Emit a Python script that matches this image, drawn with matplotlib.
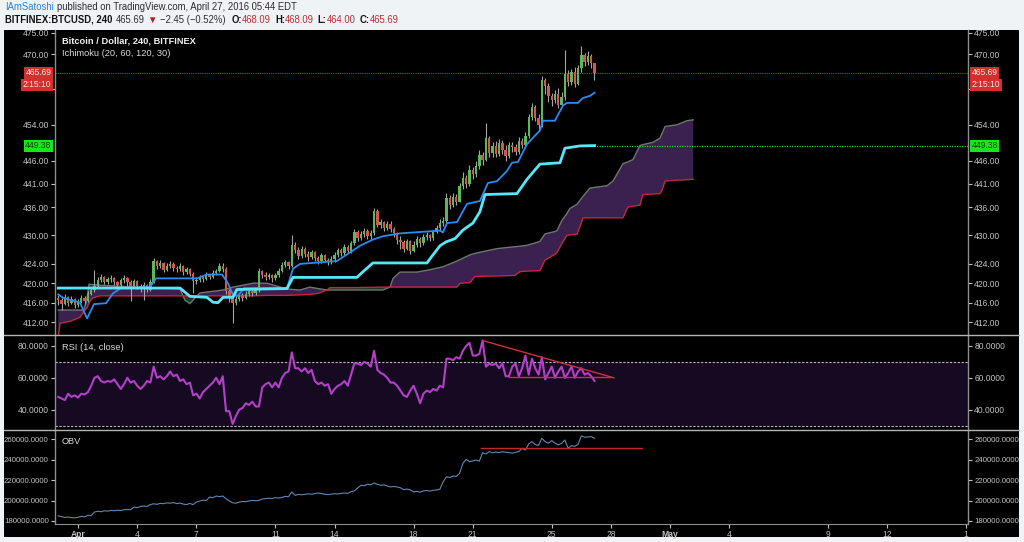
import numpy as np
import pandas as pd
import matplotlib
matplotlib.use('Agg')
import matplotlib.pyplot as plt
from matplotlib import transforms, font_manager
from matplotlib.ticker import FixedLocator, FuncFormatter, NullLocator
from matplotlib.lines import Line2D
from matplotlib.patches import Rectangle

# fonts: TradingView uses a narrow face, try Liberation Sans Narrow
names = {f.name for f in font_manager.fontManager.ttflist}
if 'Liberation Sans Narrow' in names:
    fam, k = 'Liberation Sans Narrow', 1.0
else:
    fam, k = 'Liberation Sans', 0.88
plt.rcParams['font.family'] = [fam, 'DejaVu Sans']

# ---- data: BTCUSD 4h bars, Mar 31 00:00 -> Apr 27 04:00 ----
bar_times = pd.date_range('2016-03-31 00:00', periods=164, freq='4h')
first_open = 417.0
closes = [416.5, 415.8, 417.2, 416.0, 416.8, 415.5,
          416.2, 417.0, 416.4, 417.8, 418.5, 419.4,
          420.6, 421.2, 420.3, 420.8, 421.1, 420.2,
          419.6, 420.6, 421.1, 420.2, 419.4, 420.4,
          419.4, 418.8, 419.6, 418.7, 420.3, 424.6,
          423.5, 424.2, 422.8, 423.6, 424.0, 423.2,
          422.9, 423.5, 422.4, 423.0, 422.0, 420.5,
          420.6, 421.2, 420.8, 421.7, 421.3, 422.2,
          422.6, 423.6, 423.0, 418.3, 417.0, 416.0,
          416.8, 417.5, 416.9, 417.8, 418.4, 418.0,
          418.5, 422.5, 421.8, 421.2, 421.6, 421.0,
          421.6, 422.6, 423.8, 424.3, 423.6, 428.0,
          427.0, 425.6, 427.2, 426.0, 425.4, 426.5,
          425.2, 424.6, 425.8, 424.9, 424.3, 425.0,
          425.8, 426.9, 426.2, 427.5, 426.8, 428.4,
          430.8, 429.5, 430.2, 431.0, 429.8, 430.5,
          435.2, 432.2, 432.8, 431.6, 432.5, 431.4,
          430.4, 429.0, 428.5, 427.2, 428.8, 426.8,
          428.0, 429.2, 428.3, 429.6, 430.0, 429.4,
          430.8, 431.6, 432.6, 433.0, 438.0, 436.5,
          438.2, 437.2, 440.5, 442.3, 441.0, 444.0,
          443.2, 444.8, 447.4, 446.2, 451.0, 447.8,
          449.2, 447.6, 450.0, 448.4, 447.0, 449.5,
          449.0, 448.0, 450.5, 449.6, 451.5, 455.8,
          458.0, 455.5, 454.0, 464.0, 462.8, 460.5,
          459.5, 461.0, 458.5, 460.2, 465.5, 463.6,
          466.0, 463.2, 466.8, 469.8, 468.2, 469.5,
          468.09, 465.69]
highs = [417.6, 417.0, 417.8, 417.4, 417.3, 417.0,
         416.8, 417.5, 417.4, 418.3, 419.1, 422.7,
         421.2, 421.9, 421.5, 421.3, 421.7, 421.3,
         420.5, 421.1, 421.8, 421.3, 420.6, 420.9,
         420.6, 419.9, 420.2, 419.9, 420.8, 425.2,
         424.9, 424.8, 424.4, 424.1, 424.6, 424.3,
         423.6, 424.1, 423.8, 423.4, 423.2, 422.3,
         421.2, 421.8, 421.5, 422.3, 422.0, 422.7,
         423.0, 424.2, 424.1, 423.4, 418.8, 417.5,
         417.3, 418.0, 417.9, 418.3, 419.0, 418.8,
         419.0, 423.2, 422.8, 422.3, 422.1, 421.9,
         422.2, 423.1, 424.3, 424.9, 424.7, 430.0,
         428.6, 427.6, 427.8, 427.6, 426.6, 427.0,
         426.8, 425.6, 426.3, 426.1, 425.3, 425.6,
         426.4, 427.4, 427.3, 428.1, 427.9, 428.9,
         431.4, 431.2, 430.9, 431.6, 431.4, 431.2,
         435.8, 435.6, 433.4, 433.0, 433.1, 433.0,
         431.8, 430.8, 429.8, 429.0, 429.3, 429.1,
         428.7, 429.8, 429.6, 430.3, 430.7, 430.3,
         431.2, 432.2, 433.4, 433.8, 439.0, 438.6,
         439.0, 438.9, 441.2, 443.5, 443.0, 445.2,
         444.6, 446.0, 448.5, 448.0, 454.5, 451.5,
         450.1, 450.3, 450.8, 450.6, 449.4, 450.2,
         450.2, 449.8, 451.2, 451.0, 452.4, 456.5,
         458.8, 458.5, 456.4, 465.0, 464.6, 463.4,
         461.2, 461.8, 462.2, 461.4, 471.0, 466.3,
         466.7, 467.0, 467.5, 472.0, 470.3, 470.8,
         470.0, 468.09]
lows = [415.6, 414.6, 415.5, 415.4, 415.7, 415.0,
        415.2, 415.9, 415.8, 416.1, 417.5, 418.2,
        419.1, 420.2, 419.8, 419.9, 420.3, 419.6,
        418.8, 419.2, 420.1, 419.4, 416.4, 419.0,
        418.9, 418.2, 416.5, 418.2, 418.4, 420.0,
        422.9, 423.1, 422.3, 422.5, 423.2, 422.6,
        422.3, 422.6, 421.8, 422.0, 421.5, 418.0,
        419.9, 420.2, 420.2, 420.6, 420.8, 421.0,
        421.8, 422.3, 422.4, 417.8, 416.2, 411.8,
        415.5, 416.4, 416.3, 416.7, 417.4, 417.3,
        417.6, 418.2, 421.0, 420.6, 420.8, 420.2,
        420.7, 421.3, 422.4, 423.3, 422.9, 423.4,
        426.2, 425.0, 425.3, 425.5, 424.6, 425.0,
        424.7, 423.9, 424.2, 424.4, 423.7, 423.9,
        424.5, 425.4, 425.6, 425.9, 426.2, 426.3,
        428.0, 428.8, 429.0, 429.7, 429.2, 429.3,
        430.1, 431.8, 431.6, 430.9, 431.2, 430.6,
        429.6, 428.2, 427.1, 426.4, 426.9, 426.1,
        426.5, 427.6, 427.5, 428.0, 429.1, 428.7,
        429.0, 430.4, 431.0, 431.9, 432.5, 435.6,
        436.0, 436.5, 437.0, 439.8, 440.2, 440.6,
        442.0, 442.6, 444.3, 445.2, 445.9, 446.9,
        446.9, 446.8, 447.0, 447.6, 446.0, 446.6,
        447.9, 447.2, 447.6, 448.8, 449.0, 451.0,
        455.0, 454.9, 452.8, 453.6, 461.0, 459.2,
        458.2, 458.8, 457.8, 457.9, 459.6, 462.8,
        463.0, 462.6, 462.9, 466.0, 467.2, 467.5,
        466.8, 464.0]

rsi = [48, 47, 46, 50, 48, 49, 47.5, 50, 49.5, 51, 55, 60,
       61, 58, 57, 58, 57.5, 59, 56, 53, 56, 60, 57, 58,
       55, 53, 55, 58, 57, 67, 60, 61, 59, 61, 64, 61,
       62, 58, 59, 56, 57, 49, 50, 47, 51, 53, 55, 57,
       60, 56, 61, 39, 39, 31, 36, 40, 41, 44, 43, 45,
       42, 42, 54, 56, 57, 54, 57, 54, 60, 63, 64, 76,
       66, 66, 64, 66, 63, 65, 58, 56, 57, 55, 56, 50,
       53, 55, 56, 58, 55, 62, 69, 69, 68, 70, 69, 67,
       77, 65, 63, 62, 60, 57, 57, 55, 52, 49, 48, 52,
       55, 50, 44, 50, 52, 51, 53, 52, 55, 54, 72, 72,
       71, 73, 72, 77, 80, 82, 74, 74, 75, 83.5, 67, 69,
       68, 69, 66, 69, 61, 61, 67, 69, 61, 66, 74, 62,
       72, 66, 62, 73, 59, 63, 67, 60, 64, 67, 60, 63,
       67, 60, 64, 66, 62, 63, 61, 58]

obv_k = [185.0, 184.2, 183.4, 183.8, 183.2, 183.0, 183.5, 184.5, 184.0, 185.5, 185.2, 188.7,
         189.5, 189.0, 190.0, 189.6, 190.3, 190.0, 190.5, 190.2, 191.0, 191.3, 191.0, 193.6,
         193.0, 194.2, 194.6, 194.2, 196.0, 196.8, 196.3, 197.2, 196.9, 197.7, 197.4, 198.0,
         197.0, 197.5, 196.5, 196.0, 197.2, 196.0, 198.5, 199.5, 200.4, 200.0, 203.4, 202.8,
         204.4, 203.8, 204.4, 201.8, 199.5, 197.8, 197.4, 198.4, 199.1, 198.8, 199.6, 200.1,
         199.8, 200.1, 201.5, 201.8, 202.2, 202.0, 202.8, 202.4, 203.0, 204.1, 203.8, 208.4,
         205.1, 206.0, 205.6, 206.1, 206.6, 206.1, 206.8, 207.4, 206.8, 206.2, 205.8, 206.3,
         206.7, 206.4, 207.0, 207.4, 207.0, 208.7, 209.5, 212.3, 214.9, 214.5, 215.9, 215.5,
         217.2, 215.9, 214.9, 215.4, 214.2, 213.3, 213.8, 213.3, 212.5, 210.7, 211.2, 210.5,
         208.4, 209.0, 208.2, 209.4, 209.8, 209.3, 210.0, 210.4, 211.0, 218.4, 223.3, 222.5,
         224.0, 223.6, 226.6, 236.4, 240.3, 238.1, 238.8, 239.7, 238.6, 246.9, 245.6, 247.9,
         246.8, 247.5, 246.9, 247.9, 247.3, 247.0, 246.4, 247.2, 248.0, 251.2, 249.5, 255.4,
         257.7, 254.8, 254.0, 261.0, 257.7, 256.1, 258.7, 256.2, 254.5, 256.0, 259.3, 251.2,
         253.8, 253.1, 255.0, 263.3, 262.0, 262.3, 262.6, 261.0]

# Ichimoku (20, 60, 120, 30) vertices, x in days since Apr 1
conv_days = [-1.0, -0.76, 0.10, 0.46, 0.81, 1.42, 1.77, 2.18, 3.65, 3.95, 6.03, 6.53,
             7.29, 7.60, 7.85, 8.11, 8.41, 10.59, 10.89, 11.25, 13.12, 13.78, 14.29,
             14.94, 15.45, 16.31, 18.34, 18.49, 18.69, 19.20, 19.71, 20.36, 20.77,
             21.23, 21.73, 21.99, 22.29, 22.75, 23.05, 23.40, 23.56, 24.16, 24.57,
             24.77, 25.33, 25.58, 25.94, 26.17]
conv_vals = [417.7, 417.0, 416.0, 412.8, 415.7, 415.9, 417.9, 419.0, 419.2, 421.0, 421.0, 421.8,
             421.8, 420.0, 417.6, 417.4, 419.0, 419.0, 423.0, 424.0, 424.6, 426.4, 427.8,
             429.1, 429.8, 430.4, 431.0, 430.6, 432.6, 432.8, 436.7, 437.3, 441.2,
             441.6, 443.8, 445.6, 445.8, 449.7, 451.1, 452.7, 454.9, 454.9, 458.3,
             458.9, 458.9, 460.0, 460.5, 461.2]
base_days = [-1.0, 5.17, 5.67, 6.53, 6.84, 7.09, 7.35, 7.85, 8.05, 10.59, 10.89, 14.13,
             14.39, 14.94, 17.68, 17.93, 18.34, 18.64, 19.10, 19.50, 20.01, 20.36, 20.62,
             22.24, 22.75, 23.40, 24.42, 24.67, 25.43, 26.17]
base_vals = [419.0, 419.0, 417.3, 417.1, 416.1, 416.0, 417.1, 417.1, 418.7, 418.9, 421.2, 421.2,
             422.2, 424.2, 424.2, 425.6, 427.8, 428.6, 429.3, 431.1, 432.6, 435.0, 438.7,
             438.9, 442.0, 445.3, 445.6, 448.8, 449.3, 449.38]
cloud_days = [-1.00, -0.91, -0.41, 0.10, 0.30, 0.46, 0.56, 0.76, 1.11, 1.98, 5.17, 5.42,
              5.67, 5.93, 6.18, 7.35, 7.85, 8.87, 9.57, 10.59, 11.25, 11.75, 12.16, 12.61,
              12.77, 14.13, 15.45, 15.81, 15.96, 16.31, 17.17, 17.83, 18.49, 19.20, 19.35,
              19.86, 20.11, 21.23, 22.14, 22.39, 22.75, 23.40, 23.66, 24.16, 24.27, 24.52,
              24.77, 24.92, 25.28, 25.53, 25.58, 25.94, 26.80, 27.10, 27.61, 27.86, 28.12,
              28.47, 28.62, 29.13, 29.48, 29.58, 29.74, 30.35, 30.85, 31.17]
span_a = [414.5, 414.5, 414.5, 414.5, 414.5, 417.0, 419.8, 419.7, 419.6, 419.4, 418.8, 416.5,
          415.8, 417.0, 418.0, 418.6, 419.2, 420.0, 420.0, 418.8, 418.6, 419.2, 418.9, 418.6,
          418.6, 418.6, 418.6, 419.2, 421.0, 422.3, 422.3, 422.8, 423.4, 424.6, 424.9,
          425.9, 426.2, 427.2, 427.6, 427.7, 427.9, 428.7, 430.3, 430.8, 431.0, 433.2,
          434.6, 435.7, 436.6, 438.0, 438.3, 440.1, 440.6, 441.6, 445.4, 445.8, 446.3,
          449.4, 449.6, 450.1, 451.0, 452.0, 453.6, 454.0, 454.9, 455.1]
span_b = [409.0, 411.8, 412.2, 413.0, 414.2, 415.0, 416.0, 417.0, 417.4, 417.4, 417.4, 417.4,
          417.4, 417.4, 417.4, 417.4, 417.4, 417.4, 417.5, 417.5, 417.6, 417.7, 417.9, 418.6,
          419.1, 419.1, 419.2, 419.2, 419.2, 419.2, 419.2, 419.2, 419.2, 419.2, 420.0,
          420.1, 421.4, 421.5, 421.6, 422.4, 422.5, 422.6, 424.8, 426.0, 426.4, 428.3,
          430.0, 430.1, 430.2, 433.0, 433.7, 433.7, 433.7, 433.7, 433.7, 436.0, 436.2,
          436.4, 438.7, 438.8, 438.9, 439.5, 441.6, 441.8, 441.9, 442.0]

last_price = 465.69
base_last = 449.38

# hand drawn trend lines
rsi_res_days, rsi_res_vals = [20.57, 27.15], [83.2, 60.0]
rsi_sup_days, rsi_sup_vals = [21.83, 27.0], [60.5, 60.5]
obv_line_days, obv_line_vals = [20.42, 28.56], [251200, 251200]

# 462.00 sits under the countdown tag, so only its tick mark is kept
price_ticks = [412, 416, 420, 424, 430, 436, 441, 446, 454, 462, 470, 475]
hidden_ticks = [462]
rsi_ticks = [40, 60, 80]
obv_ticks = [180000, 200000, 220000, 240000, 260000]
date_ticks = [0, 3, 6, 10, 13, 17, 20, 24, 27, 30, 33, 38, 41, 45]
date_labels = ['Apr', '4', '7', '11', '14', '18', '21', '25', '28', 'May', '4', '9', '12', '1']

# ---- figure ----
W, H = 1024, 542
fig = plt.figure(figsize=(W / 100, H / 100), dpi=100, facecolor='#f0f3f6')

def px_axes(l, t, r, b):
    return fig.add_axes([l / W, 1 - b / H, (r - l) / W, (b - t) / H])

fig.add_artist(Rectangle((4 / W, 1 - 537 / H), 1015 / W, 507 / H, transform=fig.transFigure,
                         facecolor='black', edgecolor='none', zorder=-10))

ax = px_axes(55, 30, 968, 335)
ax_rsi = px_axes(55, 335, 968, 430)
ax_obv = px_axes(55, 430, 968, 524)

x = ((bar_times - pd.Timestamp('2016-04-01')) / pd.Timedelta('1D')).values
c = np.array(closes)
o = np.array([first_open] + closes[:-1])
hi = np.array(highs)
lo = np.array(lows)
up = c >= o

tick_col = '#c4c4c4'
axis_col = '#8e8e8e'
fs = 7.0 * k

for a in (ax, ax_rsi, ax_obv):
    a.set_facecolor('black')
    a.set_xlim(-1.165, 45.09)
    for s in ('top', 'bottom'):
        a.spines[s].set_visible(False)
    for s in ('left', 'right'):
        a.spines[s].set_color(axis_col)
        a.spines[s].set_linewidth(1.0)
    a.tick_params(axis='y', which='both', left=True, right=True, labelleft=True, labelright=True,
                  colors=tick_col, labelsize=fs, length=3, width=0.8, pad=1.5)
    a.tick_params(axis='x', bottom=False, labelbottom=False)
    a.yaxis.set_minor_locator(NullLocator())

# price panel
ax.set_yscale('log')
ax.set_ylim(409.45, 475.63)
ax.yaxis.set_major_locator(FixedLocator(price_ticks))
ax.yaxis.set_major_formatter(FuncFormatter(lambda v, p: '' if round(v) in hidden_ticks else f'{v:.2f}'))
ax.yaxis.set_minor_locator(NullLocator())

cd = np.array(cloud_days)
sa = np.array(span_a)
sb = np.array(span_b)
ax.fill_between(cd, sa, sb, where=sa >= sb, interpolate=True, color='#3b2150', lw=0, zorder=1)
ax.fill_between(cd, sa, sb, where=sa < sb, interpolate=True, color='#1e3a26', lw=0, zorder=1)
ax.plot(cd, sa, color='#6d776d', lw=1.0, zorder=2)
ax.plot(cd, sb, color='#c4263e', lw=1.0, zorder=2)

ax.vlines(x, lo, hi, color='#a5a5a5', lw=0.8, zorder=3)
ax.bar(x, np.maximum(np.abs(c - o), 0.15), bottom=np.minimum(o, c), width=0.12,
       color=np.where(up, '#5cb85c', '#d9534f'), linewidth=0, zorder=4)

ax.plot(conv_days, conv_vals, color='#2a8cf0', lw=1.3, zorder=5)
ax.plot(base_days, base_vals, color='#55e8f8', lw=2.0, zorder=5)

ax.axhline(last_price, color='#b83228', lw=0.8, ls=(0, (1, 1)), zorder=2)
ax.hlines(base_last, x[-1], 45.09, color='#2ecc40', lw=0.9, ls=(0, (1, 1)), zorder=2)

tr = transforms.blended_transform_factory(ax.transAxes, ax.transData)

def tag(y, s, fc, tc, dy=0):
    for xa, ha in ((-0.004, 'right'), (1.004, 'left')):
        t = transforms.offset_copy(tr, fig=fig, y=dy, units='dots')
        ax.text(xa, y, s, transform=t, ha=ha, va='center', fontsize=fs, color=tc, zorder=10,
                clip_on=False, bbox=dict(boxstyle='square,pad=0.18', fc=fc, ec='none'))

tag(last_price, f'{last_price:.2f}', '#d32f2f', '#ffe4e4')
tag(last_price, '2:15:10', '#d32f2f', '#ffe4e4', dy=-12)
tag(base_last, f'{base_last:.2f}', '#19e619', '#0b3a0b')

# RSI panel
ax_rsi.set_ylim(27.2, 86.9)
ax_rsi.axhspan(30, 70, color='#150a22', lw=0, zorder=0)
for lvl in (70, 30):
    ax_rsi.axhline(lvl, color='#bcbcbc', lw=0.8, ls=(0, (2, 1.5)), zorder=1)
ax_rsi.plot(x, rsi, color='#b43fc8', lw=1.5, zorder=3)
ax_rsi.plot(rsi_res_days, rsi_res_vals, color='#d0303a', lw=1.0, zorder=4)
ax_rsi.plot(rsi_sup_days, rsi_sup_vals, color='#d0303a', lw=1.0, zorder=4)
ax_rsi.yaxis.set_major_locator(FixedLocator(rsi_ticks))
ax_rsi.yaxis.set_major_formatter(FuncFormatter(lambda v, p: f'{v:.4f}'))

# OBV panel
ax_obv.set_ylim(177000, 269100)
ax_obv.plot(x, np.array(obv_k) * 1000, color='#6088b2', lw=0.8, zorder=3)
ax_obv.plot(obv_line_days, obv_line_vals, color='#c0282e', lw=1.0, zorder=4)
ax_obv.yaxis.set_major_locator(FixedLocator(obv_ticks))
ax_obv.yaxis.set_major_formatter(FuncFormatter(lambda v, p: f'{v:.4f}'))
ax_obv.tick_params(axis='y', labelsize=5.9 * k / 0.88 if k == 1.0 else 5.6)
ax_obv.spines['bottom'].set_visible(True)
ax_obv.spines['bottom'].set_color(axis_col)
ax_obv.set_xticks(date_ticks, date_labels)
ax_obv.tick_params(axis='x', bottom=True, labelbottom=True, colors=tick_col, labelsize=fs,
                   length=3, width=0.8, pad=1.5)
for lab in ax_obv.get_xticklabels():
    if lab.get_text() in ('Apr', 'May'):
        lab.set_fontweight('bold')

# panel separators
for yp in (335, 430):
    fig.add_artist(Line2D([4 / W, 1019 / W], [1 - yp / H] * 2, color='#b4b4b4', lw=1.0,
                          transform=fig.transFigure, zorder=6))

def ptext(xp, yp, s, **kw):
    return fig.text(xp / W, 1 - yp / H, s, va='center', **kw)

ptext(62, 41, 'Bitcoin / Dollar, 240, BITFINEX', color='#f2f2f2', fontsize=7.6 * k, fontweight='bold')
ptext(62, 53, 'Ichimoku (20, 60, 120, 30)', color='#d8d8d8', fontsize=7.6 * k)
ptext(62, 348, 'RSI (14, close)', color='#d8d8d8', fontsize=7.6 * k)
ptext(62, 442, 'OBV', color='#d8d8d8', fontsize=7.6 * k)

# header, drawn piece by piece
renderer = fig.canvas.get_renderer()

def segments(x0, yp, parts, size):
    xp = x0
    for s, col, wt, gap in parts:
        t = ptext(xp, yp, s, color=col, fontsize=size, fontweight=wt)
        bb = t.get_window_extent(renderer=renderer)
        xp = bb.x1 + gap

dark = '#2b2b2b'
red = '#b03030'
segments(5, 7, [('IAmSatoshi', '#2f7fd6', 'normal', 3),
                ('published on TradingView.com, April 27, 2016 05:44 EDT', dark, 'normal', 0)],
         7.8 * k)
segments(5, 20, [('BITFINEX:BTCUSD, 240', '#111111', 'bold', 3),
                 ('465.69', dark, 'normal', 3),
                 ('▼', '#b71c1c', 'normal', 3),
                 ('\u22122.45 (\u22120.52%)', dark, 'normal', 6),
                 ('O:', '#111111', 'bold', 0), ('468.09', red, 'normal', 4),
                 ('H:', '#111111', 'bold', 0), ('468.09', red, 'normal', 4),
                 ('L:', '#111111', 'bold', 0), ('464.00', red, 'normal', 4),
                 ('C:', '#111111', 'bold', 0), ('465.69', red, 'normal', 0)],
         7.8 * k)

fig.savefig('out.png', dpi=100, facecolor=fig.get_facecolor())
